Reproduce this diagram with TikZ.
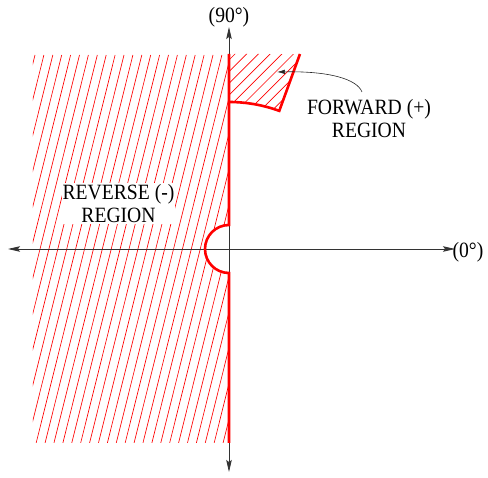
\documentclass[tikz,border=0pt]{standalone}
\usepackage{fontspec}
\setmainfont[FakeStretch=0.9]{Liberation Serif}
\usetikzlibrary{arrows.meta}
\begin{document}
\begin{tikzpicture}[x=1pt,y=1pt,
  axis/.style={draw=black!80, line width=0.8pt, {Stealth[length=12pt,width=5.5pt,inset=2pt]}-{Stealth[length=12pt,width=5.5pt,inset=2pt]}},
  hatch/.style={draw=red, line width=0.65pt},
  bound/.style={draw=red, line width=2.6pt},
  lbl/.style={font=\fontsize{21.8}{22.8}\selectfont, align=center, inner sep=1pt},
  callout/.style={draw=black!85, line width=0.6pt, -{Latex[length=8pt,width=4.5pt]}},
]
\useasboundingbox (-229,-229) rectangle (259,249);
% hatching, reverse region
\begin{scope}
  \clip (-196,-194) -- (-196,194) -- (0,194) -- (0,24) arc (90:270:24) -- (0,-194) -- cycle;
  \foreach \k in {0,...,34} {
    \draw[hatch] (-194+8.9*\k,194) -- ++(256:420);
  }
\end{scope}
% hatching, forward region
\begin{scope}
  \clip (0,195) -- (0,147) arc (90:70:147) -- (70:207.5) -- cycle;
  \foreach \k in {-2,...,12} {
    \draw[hatch] (0,189-11.7*\k) -- ++(90,90);
  }
\end{scope}
% axes
\coordinate (T) at (0,222);
\coordinate (B) at (0,-223);
\coordinate (L) at (-221,0);
\coordinate (R) at (226,0);
\draw[axis] (B) -- (T);
\draw[axis] (L) -- (R);
% boundaries
\draw[bound] (0,195) -- (0,24) arc (90:270:24) -- (0,-194);
\draw[bound, line join=miter] (0,147) arc (90:70:147) -- (70:207.5);
% labels
\node[lbl, fill=white] (rev) at (-110.5,45.5) {REVERSE (-)\\REGION};
\node[lbl] (fwd) at (140,130.5) {FORWARD (+)\\REGION};
\node[lbl] (n90) at (0,231.5) {(90°)};
\node[lbl] (n0) at (239,-3) {(0°)};
% callout
\coordinate (cs) at (133,157);
\coordinate (ce) at (48,177);
\draw[callout] (cs) .. controls (128,170) and (100,178) .. (ce);
\end{tikzpicture}
\end{document}
